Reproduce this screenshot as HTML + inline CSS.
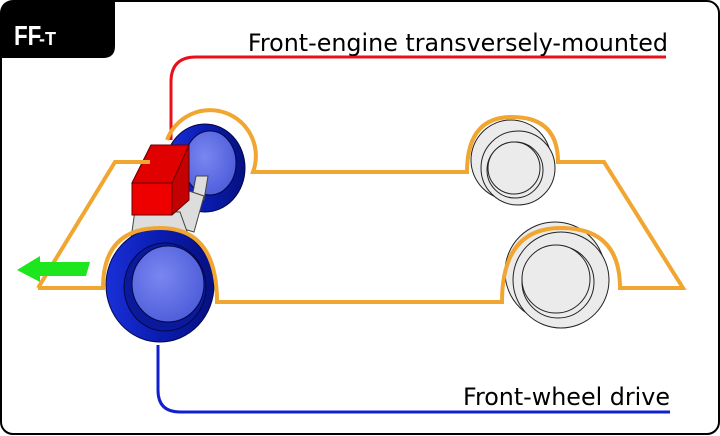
<!DOCTYPE html>
<html><head><style>body{margin:0;background:#fff}svg{display:block}</style></head><body>
<svg width="720" height="436" viewBox="0 0 720 436" xmlns="http://www.w3.org/2000/svg">
<defs>
<radialGradient id="bl" cx="0.4" cy="0.4" r="0.7"><stop offset="0" stop-color="#7a86f0"/><stop offset="1" stop-color="#4a5ad8"/></radialGradient>
<linearGradient id="rg" x1="0" x2="1"><stop offset="0" stop-color="#1a30d8"/><stop offset="0.5" stop-color="#0a1cb0"/><stop offset="1" stop-color="#061080"/></linearGradient>
</defs>
<rect x="1" y="1" width="718" height="433" rx="12" fill="#fff" stroke="#000" stroke-width="2"/>
<path d="M1 12 Q1 1 12 1 H115 V46 Q115 58 103 58 H1 Z" fill="#000"/>
<text x="14" y="45" font-family="Liberation Sans, sans-serif" font-weight="bold" font-size="28" fill="#fff" transform="translate(14 45) scale(0.8,1) translate(-14 -45)">FF</text>
<text x="39" y="45" font-family="Liberation Sans, sans-serif" font-weight="bold" font-size="18" fill="#fff">-T</text>
<path d="M171 140 V82 Q171 57 196 57 H666" fill="none" stroke="#e8101a" stroke-width="3"/>
<text x="668" y="51" text-anchor="end" font-family="DejaVu Sans, sans-serif" font-size="23.8" fill="#000">Front-engine transversely-mounted</text>
<path d="M158 345 V390 Q158 412 180 412 H670" fill="none" stroke="#1020d0" stroke-width="3"/>
<text x="670" y="405" text-anchor="end" font-family="DejaVu Sans, sans-serif" font-size="23.8" fill="#000">Front-wheel drive</text>
<g stroke="#222" stroke-width="1" fill="#ebebeb">
<circle cx="511" cy="160" r="40"/><circle cx="518" cy="168" r="37"/><circle cx="515" cy="170" r="28"/><circle cx="514" cy="168" r="26"/>
<circle cx="555" cy="272" r="50"/><circle cx="561" cy="280" r="48"/><circle cx="558" cy="282" r="36"/><circle cx="556" cy="279" r="34"/>
</g>
<ellipse cx="205" cy="168" rx="40" ry="44" fill="url(#rg)" stroke="#02084a"/>
<ellipse cx="210" cy="163" rx="26" ry="32" fill="url(#bl)" stroke="#02084a"/>
<path d="M196 176 L208 176 L204 200 L192 198 Z" fill="#ddd" stroke="#444"/>
<path d="M180 188 L204 196 L194 232 L170 225 Z" fill="#ddd" stroke="#444"/>
<path d="M135 210 L180 212 L190 240 L130 246 Z" fill="#ddd" stroke="#444"/>
<path d="M132 183 L151 145 L189 145 L189 200 L172 215 Z" fill="#c40000" stroke="#600"/>
<rect x="132" y="183" width="40" height="32" fill="#ee0000" stroke="#600"/>
<path d="M132 183 L151 145 L189 145 L172 183 Z" fill="#e00000" stroke="#600"/>
<ellipse cx="160" cy="285" rx="54" ry="57" fill="url(#rg)" stroke="#02084a"/>
<ellipse cx="165" cy="287" rx="41" ry="44" fill="#0a1a9a" stroke="#02084a"/>
<ellipse cx="168" cy="284" rx="36" ry="38" fill="url(#bl)" stroke="#02084a"/>
<path d="M38 288 L115 162 H150" fill="none" stroke="#f0a630" stroke-width="4"/>
<path d="M167 140 A44 44 0 0 1 253 172 H467 Q467 117 512 117 Q558 117 558 162 H604 L683 288 H620 Q620 228 561 228 Q502 228 502 302 H217 Q217 228 160 228 Q103 228 103 288 L38 288" fill="none" stroke="#f0a630" stroke-width="4" stroke-linejoin="miter"/>
<path d="M17 270 L40 256 L40 262 L90 262 L86 276 L40 276 L40 282 Z" fill="#1ee61e"/>
</svg>
</body></html>
